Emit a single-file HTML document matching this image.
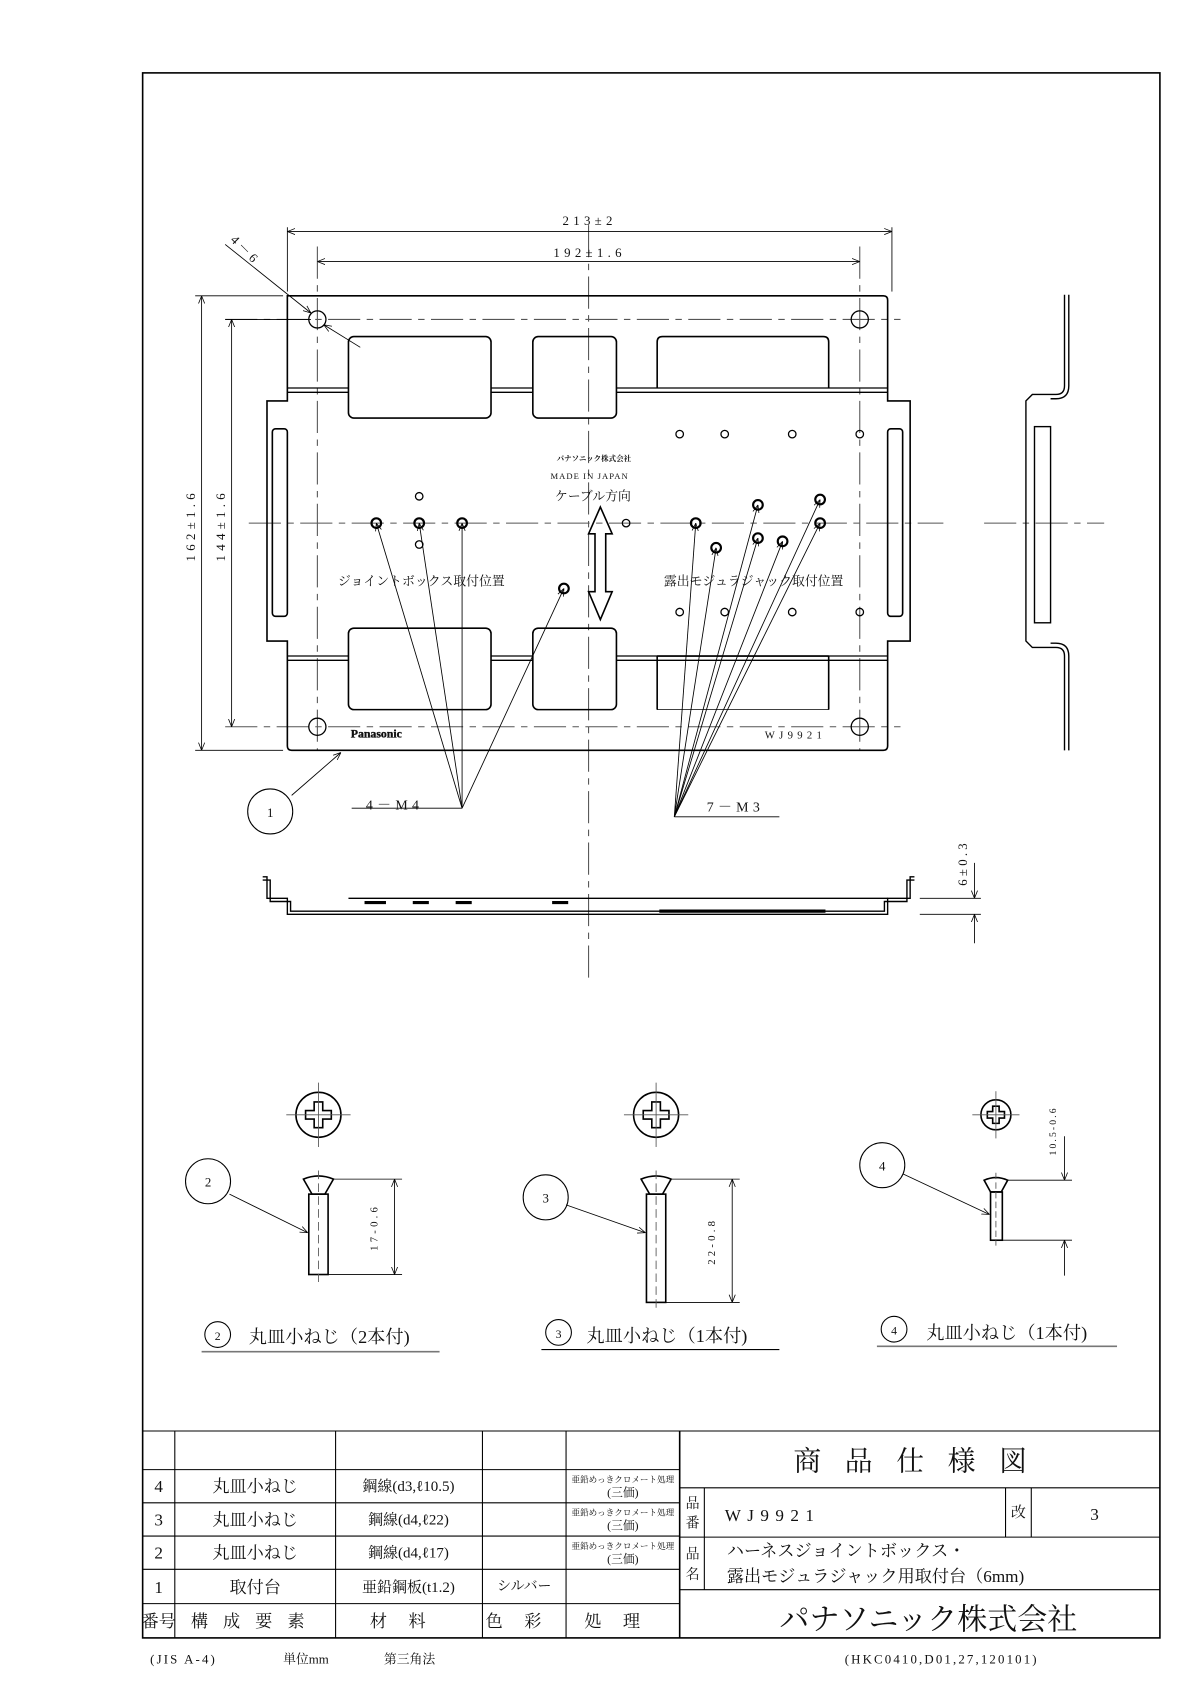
<!DOCTYPE html>
<html><head><meta charset="utf-8"><style>
html,body{margin:0;padding:0;background:#fff}
svg{display:block}
text{font-family:"Liberation Serif","Noto Serif CJK SC","Noto Sans CJK JP",serif;fill:#111}
</style></head><body>
<svg width="1190" height="1684" viewBox="0 0 1110 1571" xmlns="http://www.w3.org/2000/svg">
<defs>
<marker id="a" viewBox="0 0 10 10" refX="10" refY="5" markerWidth="9" markerHeight="9" orient="auto-start-reverse"><path d="M0,1 L10,5 L0,9" fill="none" stroke="#000" stroke-width="1"/></marker>
</defs>
<g fill="none" stroke="#000" stroke-width="1">
<rect x="133" y="68" width="949" height="1460" stroke-width="1.5"/>
<!-- center lines -->
<g stroke="#555" stroke-dasharray="30,6,6,6">
<line x1="549" y1="210" x2="549" y2="912"/>
<line x1="232" y1="488" x2="880" y2="488"/>
<line x1="918" y1="488" x2="1030" y2="488"/>
<line x1="296" y1="230" x2="296" y2="700"/>
<line x1="802" y1="230" x2="802" y2="700"/>
<line x1="210" y1="298" x2="840" y2="298"/>
<line x1="210" y1="678" x2="840" y2="678"/>
</g>
<!-- plate -->
<g stroke-width="1.5">
<path d="M268,276 H824 Q828,276 828,280 V374 H849 V598 H828 V696 Q828,700 824,700 H272 Q268,700 268,696 V598 H249 V374 H268 Z"/>
<rect x="325" y="314" width="133" height="76" rx="5"/>
<rect x="497" y="314" width="78" height="76" rx="5"/>
<path d="M613,362 V319 Q613,314 618,314 H768 Q773,314 773,319 V362"/>
<rect x="325" y="586" width="133" height="76" rx="5"/>
<rect x="497" y="586" width="78" height="76" rx="5"/>
<path d="M613,612 V662 M773,612 V662 M613,612 H773"/>
<path d="M613,662 H773" stroke-width="0.8"/>
<rect x="254" y="400" width="14" height="175" rx="3"/>
<rect x="828" y="400" width="14" height="175" rx="3"/>
</g>
<g stroke-width="1.2">
<line x1="268" y1="362" x2="325" y2="362"/><line x1="268" y1="366" x2="325" y2="366"/>
<line x1="458" y1="362" x2="497" y2="362"/><line x1="458" y1="366" x2="497" y2="366"/>
<line x1="575" y1="362" x2="828" y2="362"/><line x1="575" y1="366" x2="828" y2="366"/>
<line x1="268" y1="612" x2="325" y2="612"/><line x1="268" y1="616" x2="325" y2="616"/>
<line x1="458" y1="612" x2="497" y2="612"/><line x1="458" y1="616" x2="497" y2="616"/>
<line x1="575" y1="612" x2="828" y2="612"/><line x1="575" y1="616" x2="828" y2="616"/>
</g>
<g stroke-width="1.2">
<circle cx="296" cy="298" r="8"/><circle cx="802" cy="298" r="8"/>
<circle cx="296" cy="678" r="8"/><circle cx="802" cy="678" r="8"/>
<circle cx="391" cy="463" r="3.5"/><circle cx="391" cy="508" r="3.5"/>
<circle cx="584" cy="488" r="3.5"/>
<circle cx="634" cy="405" r="3.5"/><circle cx="676" cy="405" r="3.5"/><circle cx="739" cy="405" r="3.5"/><circle cx="802" cy="405" r="3.5"/>
<circle cx="634" cy="571" r="3.5"/><circle cx="676" cy="571" r="3.5"/><circle cx="739" cy="571" r="3.5"/><circle cx="802" cy="571" r="3.5"/>
</g>
<g stroke-width="2">
<circle cx="351" cy="488" r="4.5"/><circle cx="391" cy="488" r="4.5"/><circle cx="431" cy="488" r="4.5"/><circle cx="526" cy="549" r="4.5"/>
<circle cx="649" cy="488" r="4.5"/><circle cx="668" cy="511" r="4.5"/><circle cx="707" cy="471" r="4.5"/><circle cx="707" cy="502" r="4.5"/>
<circle cx="730" cy="505" r="4.5"/><circle cx="765" cy="466" r="4.5"/><circle cx="765" cy="488" r="4.5"/>
</g>
<!-- double arrow -->
<path d="M560,473 L571,498 L565,498 L565,552 L571,552 L560,578 L549,552 L555,552 L555,498 L549,498 Z" stroke-width="1.5"/>
<!-- leaders -->
<g stroke-width="0.8">
<line x1="431" y1="754" x2="351" y2="488" marker-end="url(#a)"/>
<line x1="431" y1="754" x2="391" y2="488" marker-end="url(#a)"/>
<line x1="431" y1="754" x2="431" y2="488" marker-end="url(#a)"/>
<line x1="431" y1="754" x2="526" y2="549" marker-end="url(#a)"/>
<line x1="328" y1="754" x2="431" y2="754"/>
<line x1="629" y1="762" x2="649" y2="488" marker-end="url(#a)"/>
<line x1="629" y1="762" x2="668" y2="511" marker-end="url(#a)"/>
<line x1="629" y1="762" x2="707" y2="471" marker-end="url(#a)"/>
<line x1="629" y1="762" x2="707" y2="502" marker-end="url(#a)"/>
<line x1="629" y1="762" x2="730" y2="505" marker-end="url(#a)"/>
<line x1="629" y1="762" x2="765" y2="466" marker-end="url(#a)"/>
<line x1="629" y1="762" x2="765" y2="488" marker-end="url(#a)"/>
<line x1="629" y1="762" x2="727" y2="762"/>
<line x1="272" y1="742" x2="318" y2="702" marker-end="url(#a)"/>
<line x1="210" y1="228" x2="290" y2="292" marker-end="url(#a)"/>
<line x1="336" y1="324" x2="302" y2="303" marker-end="url(#a)"/>
</g>
<circle cx="252" cy="757" r="21"/>
<!-- dims -->
<g stroke-width="0.8">
<line x1="268" y1="212" x2="268" y2="272"/><line x1="832" y1="212" x2="832" y2="272"/>
<line x1="268" y1="216" x2="832" y2="216" marker-start="url(#a)" marker-end="url(#a)"/>
<line x1="296" y1="244" x2="802" y2="244" marker-start="url(#a)" marker-end="url(#a)"/>
<line x1="182" y1="276" x2="264" y2="276"/><line x1="182" y1="700" x2="264" y2="700"/>
<line x1="188" y1="276" x2="188" y2="700" marker-start="url(#a)" marker-end="url(#a)"/>
<line x1="210" y1="298" x2="290" y2="298"/>
<line x1="216" y1="298" x2="216" y2="678" marker-start="url(#a)" marker-end="url(#a)"/>
</g>
<!-- side view -->
<g stroke-width="1.3">
<path d="M993,275 V360 Q993,368 985,368 H963 L957,374 V598 L963,604 H985 Q993,604 993,612 V700"/>
<path d="M997,275 V360 Q997,372 985,372 H980 M997,700 V612 Q997,600 985,600 H980"/>
<rect x="965" y="398" width="15" height="183"/>
</g>
<!-- bottom view -->
<g stroke-width="1.3">
<path d="M245,818 H249 V838 H268 V853 H828 V838 H849 V818 H853"/>
<path d="M245,821 H252 V841 H271 V850 H825 V841 H846 V821 H853"/>
<line x1="325" y1="838" x2="828" y2="838"/>
<line x1="615" y1="850" x2="770" y2="850" stroke-width="3"/>
<line x1="340" y1="842" x2="360" y2="842" stroke-width="3"/><line x1="385" y1="842" x2="400" y2="842" stroke-width="3"/><line x1="425" y1="842" x2="440" y2="842" stroke-width="3"/>
<line x1="515" y1="842" x2="530" y2="842" stroke-width="3"/>
</g>
<g stroke-width="0.8">
<line x1="858" y1="838" x2="915" y2="838"/><line x1="858" y1="853" x2="915" y2="853"/>
<line x1="909" y1="805" x2="909" y2="838" marker-end="url(#a)"/>
<line x1="909" y1="880" x2="909" y2="853" marker-end="url(#a)"/>
</g>
<!-- screws plan -->
<g stroke-width="1.5">
<circle cx="297" cy="1040" r="21"/><circle cx="612" cy="1040" r="21"/><circle cx="929" cy="1040" r="14"/>
<path d="M293,1028 h8 v8 h8 v8 h-8 v8 h-8 v-8 h-8 v-8 h8 Z"/>
<path d="M608,1028 h8 v8 h8 v8 h-8 v8 h-8 v-8 h-8 v-8 h8 Z"/>
<path d="M926,1032 h6 v5 h5 v6 h-5 v5 h-6 v-5 h-5 v-6 h5 Z"/>
<!-- screws side -->
<path d="M283,1100 Q297,1094 311,1100 L303,1114 H291 Z"/><rect x="288" y="1114" width="18" height="75"/>
<path d="M598,1100 Q612,1094 626,1100 L618,1114 H606 Z"/><rect x="603" y="1114" width="18" height="101"/>
<path d="M918,1101 Q929,1096 940,1101 L934,1112 H924 Z"/><rect x="924" y="1112" width="11" height="45"/>
</g>
<g stroke-width="0.8" stroke="#555">
<line x1="297" y1="1010" x2="297" y2="1070"/><line x1="267" y1="1040" x2="327" y2="1040"/>
<line x1="612" y1="1010" x2="612" y2="1070"/><line x1="582" y1="1040" x2="642" y2="1040"/>
<line x1="929" y1="1018" x2="929" y2="1062"/><line x1="907" y1="1040" x2="951" y2="1040"/>
<line x1="297" y1="1092" x2="297" y2="1196" stroke-dasharray="8,4"/>
<line x1="612" y1="1092" x2="612" y2="1222" stroke-dasharray="8,4"/>
<line x1="929" y1="1094" x2="929" y2="1162" stroke-dasharray="6,3"/>
</g>
<g stroke-width="0.8">
<line x1="311" y1="1100" x2="375" y2="1100"/><line x1="306" y1="1189" x2="375" y2="1189"/>
<line x1="368" y1="1100" x2="368" y2="1189" marker-start="url(#a)" marker-end="url(#a)"/>
<line x1="626" y1="1100" x2="690" y2="1100"/><line x1="621" y1="1215" x2="690" y2="1215"/>
<line x1="683" y1="1100" x2="683" y2="1215" marker-start="url(#a)" marker-end="url(#a)"/>
<line x1="940" y1="1101" x2="1000" y2="1101"/><line x1="935" y1="1157" x2="1000" y2="1157"/>
<line x1="993" y1="1060" x2="993" y2="1101" marker-end="url(#a)"/>
<line x1="993" y1="1190" x2="993" y2="1157" marker-end="url(#a)"/>
<line x1="214" y1="1114" x2="287" y2="1150" marker-end="url(#a)"/>
<line x1="528" y1="1124" x2="602" y2="1150" marker-end="url(#a)"/>
<line x1="842" y1="1095" x2="923" y2="1133" marker-end="url(#a)"/>
</g>
<circle cx="194" cy="1102" r="21"/><circle cx="509" cy="1117" r="21"/><circle cx="823" cy="1087" r="21"/>
<circle cx="203" cy="1245" r="12"/><circle cx="521" cy="1243" r="12"/><circle cx="834" cy="1240" r="12"/>
<line x1="188" y1="1261" x2="410" y2="1261" stroke="#777" stroke-width="1.5"/>
<line x1="505" y1="1259" x2="727" y2="1259"/>
<line x1="818" y1="1256" x2="1042" y2="1256" stroke="#777" stroke-width="1.5"/>
<!-- table -->
<g stroke-width="1">
<line x1="133" y1="1335" x2="1082" y2="1335"/>
<line x1="133" y1="1371" x2="634" y2="1371"/>
<line x1="133" y1="1402" x2="634" y2="1402"/>
<line x1="133" y1="1433" x2="634" y2="1433"/>
<line x1="133" y1="1464" x2="634" y2="1464"/>
<line x1="133" y1="1496" x2="634" y2="1496"/>
<line x1="163" y1="1335" x2="163" y2="1528"/>
<line x1="313" y1="1335" x2="313" y2="1528"/>
<line x1="450" y1="1335" x2="450" y2="1528"/>
<line x1="528" y1="1335" x2="528" y2="1528"/>
<line x1="634" y1="1335" x2="634" y2="1528" stroke-width="1.5"/>
<line x1="634" y1="1388" x2="1082" y2="1388"/>
<line x1="634" y1="1434" x2="1082" y2="1434"/>
<line x1="634" y1="1483" x2="1082" y2="1483"/>
<line x1="657" y1="1388" x2="657" y2="1483"/>
<line x1="938" y1="1388" x2="938" y2="1434"/>
<line x1="962" y1="1388" x2="962" y2="1434"/>
</g>
</g>
<!-- texts -->
<g font-size="12" text-anchor="middle">
<text x="550" y="210" letter-spacing="4">213±2</text>
<text x="550" y="240" letter-spacing="4">192±1.6</text>
<text x="0" y="0" transform="translate(182,490) rotate(-90)" letter-spacing="4">162±1.6</text>
<text x="0" y="0" transform="translate(210,490) rotate(-90)" letter-spacing="4">144±1.6</text>
<text x="0" y="0" transform="translate(226,236) rotate(45)" letter-spacing="3">4－6</text>
<text x="0" y="0" transform="translate(902,805) rotate(-90)" letter-spacing="3">6±0.3</text>
<text x="252" y="762">1</text>
<text x="368" y="755" font-size="13" letter-spacing="4">4－M4</text>
<text x="686" y="757" font-size="13" letter-spacing="4">7－M3</text>
<text x="554" y="430" font-size="7" font-family="Liberation Sans, Noto Sans CJK JP, sans-serif" font-weight="bold">パナソニック株式会社</text>
<text x="550" y="447" font-size="8" letter-spacing="1">MADE IN JAPAN</text>
<text x="553" y="467" font-size="12">ケーブル方向</text>
<text x="393" y="546" font-size="12">ジョイントボックス取付位置</text>
<text x="703" y="546" font-size="12">露出モジュラジャック取付位置</text>
<text x="351" y="688" font-size="11" font-family="Liberation Sans,sans-serif" font-weight="bold" stroke="#000" stroke-width="0.3" fill="#fff">Panasonic</text>
<text x="742" y="689" font-size="10" letter-spacing="4">WJ9921</text>
<text x="194" y="1107">2</text><text x="509" y="1122">3</text><text x="823" y="1092">4</text>
<text x="203" y="1250" font-size="11">2</text><text x="521" y="1248" font-size="11">3</text><text x="834" y="1245" font-size="11">4</text>
<text x="0" y="0" transform="translate(352,1145) rotate(-90)" font-size="10" letter-spacing="3">17-0.6</text>
<text x="0" y="0" transform="translate(667,1158) rotate(-90)" font-size="10" letter-spacing="3">22-0.8</text>
<text x="0" y="0" transform="translate(985,1055) rotate(-90)" font-size="9" letter-spacing="2">10.5-0.6</text>
</g>
<g font-size="17" text-anchor="start">
<text x="232" y="1253">丸皿小ねじ（2本付)</text>
<text x="547" y="1252">丸皿小ねじ（1本付)</text>
<text x="864" y="1249">丸皿小ねじ（1本付)</text>
</g>
<g font-size="16" text-anchor="middle">
<text x="148" y="1392">4</text><text x="148" y="1423">3</text><text x="148" y="1454">2</text><text x="148" y="1486">1</text>
<text x="238" y="1392">丸皿小ねじ</text><text x="238" y="1423">丸皿小ねじ</text><text x="238" y="1454">丸皿小ねじ</text><text x="238" y="1486">取付台</text>
<text x="381" y="1391" font-size="14">鋼線(d3,ℓ10.5)</text>
<text x="381" y="1422" font-size="14">鋼線(d4,ℓ22)</text>
<text x="381" y="1453" font-size="14">鋼線(d4,ℓ17)</text>
<text x="381" y="1485" font-size="14">亜鉛鋼板(t1.2)</text>
<text x="489" y="1484" font-size="13">シルバー</text>
<text x="581" y="1383" font-size="8">亜鉛めっきクロメート処理</text><text x="581" y="1396" font-size="11">(三価)</text>
<text x="581" y="1414" font-size="8">亜鉛めっきクロメート処理</text><text x="581" y="1427" font-size="11">(三価)</text>
<text x="581" y="1445" font-size="8">亜鉛めっきクロメート処理</text><text x="581" y="1458" font-size="11">(三価)</text>
<text x="148" y="1518">番号</text>
<text x="238" y="1518" letter-spacing="14">構成要素</text>
<text x="381" y="1518" letter-spacing="20">材料</text>
<text x="489" y="1518" letter-spacing="20">色彩</text>
<text x="581" y="1518" letter-spacing="20">処理</text>
<text x="860" y="1372" font-size="26" letter-spacing="22">商品仕様図</text>
<text x="646" y="1407" font-size="13">品</text><text x="646" y="1425" font-size="13">番</text>
<text x="646" y="1454" font-size="13">品</text><text x="646" y="1473" font-size="13">名</text>
<text x="950" y="1415" font-size="14">改</text>
<text x="1021" y="1418">3</text>
<text x="866" y="1520" font-size="28">パナソニック株式会社</text>
</g>
<g font-size="16" text-anchor="start">
<text x="676" y="1419" letter-spacing="6">WJ9921</text>
<text x="678" y="1452">ハーネスジョイントボックス・</text>
<text x="678" y="1476">露出モジュラジャック用取付台（6mm)</text>
</g>
<g font-size="12">
<text x="140" y="1552" letter-spacing="2">(JIS A-4)</text>
<text x="264" y="1552">単位mm</text>
<text x="358" y="1552">第三角法</text>
<text x="788" y="1552" letter-spacing="2">(HKC0410,D01,27,120101)</text>
</g>
</svg>
</body></html>
